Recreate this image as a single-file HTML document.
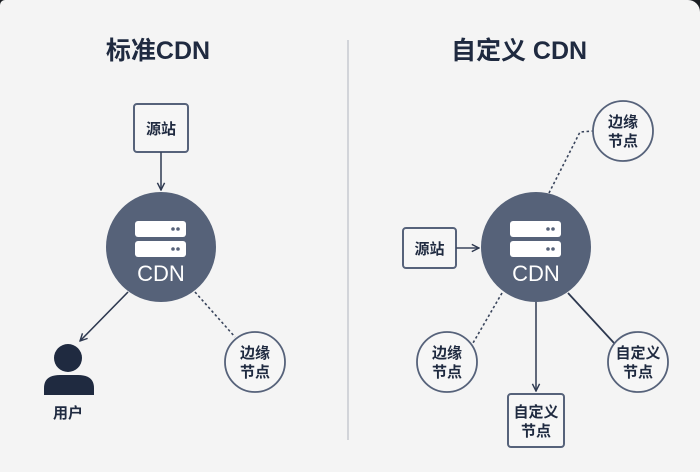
<!DOCTYPE html>
<html><head><meta charset="utf-8"><style>
html,body{margin:0;padding:0;background:#1a1d22;}
.card{position:absolute;left:0;top:0;width:700px;height:472px;background:#f4f4f4;border-radius:5px 12px 0 0;overflow:hidden;}
svg{position:absolute;left:0;top:0;}
text{font-family:"Liberation Sans","Noto Sans CJK SC",sans-serif;}
</style></head><body>
<div class="card">
<svg width="700" height="472" viewBox="0 0 700 472">
<defs>
<marker id="ah" viewBox="0 0 10 10" refX="9" refY="5" markerWidth="9" markerHeight="9" markerUnits="userSpaceOnUse" orient="auto">
<path d="M1,1 L9,5 L1,9" fill="none" stroke="#2e3950" stroke-width="1.6"/>
</marker>
<g id="srv">
<rect x="-26" y="-27" width="51" height="16" rx="3" fill="#fff"/>
<rect x="-26" y="-7" width="51" height="16" rx="3" fill="#fff"/>
<circle cx="12" cy="-19" r="1.8" fill="#566279"/><circle cx="17" cy="-19" r="1.8" fill="#566279"/>
<circle cx="12" cy="1" r="1.8" fill="#566279"/><circle cx="17" cy="1" r="1.8" fill="#566279"/>
</g>
</defs>
<!-- divider -->
<line x1="348" y1="40" x2="348" y2="440" stroke="#c6cad0" stroke-width="1.5"/>
<!-- titles -->
<text x="158" y="59" text-anchor="middle" font-size="25" font-weight="bold" fill="#1f2a40">标准CDN</text>
<text x="519" y="59" text-anchor="middle" font-size="25" font-weight="bold" fill="#1f2a40">自定义 CDN</text>

<!-- LEFT -->
<rect x="134" y="104" width="54" height="48" rx="3" fill="#f6f6f6" stroke="#56627a" stroke-width="2"/>
<text x="161" y="134" text-anchor="middle" font-size="15" font-weight="bold" fill="#1f2a40">源站</text>
<line x1="161" y1="152" x2="161" y2="190" stroke="#3a455c" stroke-width="1.6" marker-end="url(#ah)"/>
<circle cx="161" cy="247" r="55" fill="#566279"/>
<use href="#srv" x="161" y="248"/>
<text x="161" y="281" text-anchor="middle" font-size="22" fill="#fff">CDN</text>
<line x1="128" y1="292" x2="80" y2="341" stroke="#2e3950" stroke-width="1.6" marker-end="url(#ah)"/>
<line x1="195" y1="292" x2="235" y2="337" stroke="#3a455c" stroke-width="1.6" stroke-dasharray="2.5 2.5"/>
<circle cx="255" cy="362" r="30" fill="#f6f6f6" stroke="#56627a" stroke-width="1.8"/>
<text x="255" y="358" text-anchor="middle" font-size="15" font-weight="bold" fill="#1f2a40">边缘</text>
<text x="255" y="377" text-anchor="middle" font-size="15" font-weight="bold" fill="#1f2a40">节点</text>
<!-- user -->
<circle cx="68" cy="358" r="14" fill="#1f2a40"/>
<path d="M44,395 L44,388 Q44,375 60,375 L78,375 Q94,375 94,388 L94,395 Z" fill="#1f2a40"/>
<text x="68" y="418" text-anchor="middle" font-size="15" font-weight="bold" fill="#1f2a40">用户</text>

<!-- RIGHT -->
<rect x="403" y="228" width="53" height="40" rx="3" fill="#f6f6f6" stroke="#56627a" stroke-width="2"/>
<text x="429.5" y="254" text-anchor="middle" font-size="15" font-weight="bold" fill="#1f2a40">源站</text>
<line x1="456" y1="248" x2="479" y2="248" stroke="#3a455c" stroke-width="1.6" marker-end="url(#ah)"/>
<circle cx="536" cy="247" r="55" fill="#566279"/>
<use href="#srv" x="536" y="248"/>
<text x="536" y="281" text-anchor="middle" font-size="22" fill="#fff">CDN</text>
<!-- top edge node -->
<polyline points="549,193 580,132 593,131" fill="none" stroke="#3a455c" stroke-width="1.6" stroke-dasharray="2.5 2.5"/>
<circle cx="623" cy="131" r="30" fill="#f6f6f6" stroke="#56627a" stroke-width="1.8"/>
<text x="623" y="127" text-anchor="middle" font-size="15" font-weight="bold" fill="#1f2a40">边缘</text>
<text x="623" y="146" text-anchor="middle" font-size="15" font-weight="bold" fill="#1f2a40">节点</text>
<!-- bottom-left edge node -->
<line x1="502" y1="293" x2="473" y2="343" stroke="#3a455c" stroke-width="1.6" stroke-dasharray="2.5 2.5"/>
<circle cx="447" cy="362" r="30" fill="#f6f6f6" stroke="#56627a" stroke-width="1.8"/>
<text x="447" y="358" text-anchor="middle" font-size="15" font-weight="bold" fill="#1f2a40">边缘</text>
<text x="447" y="377" text-anchor="middle" font-size="15" font-weight="bold" fill="#1f2a40">节点</text>
<!-- bottom box -->
<line x1="536" y1="302" x2="536" y2="391" stroke="#3a455c" stroke-width="1.6" marker-end="url(#ah)"/>
<rect x="508" y="394" width="56" height="53" rx="3" fill="#f6f6f6" stroke="#56627a" stroke-width="2"/>
<text x="536" y="417" text-anchor="middle" font-size="15" font-weight="bold" fill="#1f2a40">自定义</text>
<text x="536" y="436" text-anchor="middle" font-size="15" font-weight="bold" fill="#1f2a40">节点</text>
<!-- right custom node -->
<line x1="568" y1="293" x2="614" y2="343" stroke="#2e3950" stroke-width="1.8"/>
<circle cx="638" cy="362" r="30" fill="#f6f6f6" stroke="#56627a" stroke-width="1.8"/>
<text x="638" y="358" text-anchor="middle" font-size="15" font-weight="bold" fill="#1f2a40">自定义</text>
<text x="638" y="377" text-anchor="middle" font-size="15" font-weight="bold" fill="#1f2a40">节点</text>
</svg>
</div>
</body></html>
